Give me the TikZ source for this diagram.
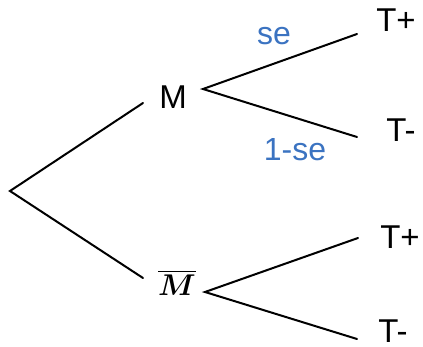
\RequirePackage{fix-cm}
\documentclass[tikz,border=0pt]{standalone}
\usepackage{amsmath}
\usepackage{fontspec}
\setmainfont{Liberation Sans}
\usepackage{tikz}
\usetikzlibrary{positioning}
\definecolor{problabel}{HTML}{3B73C1}
\tikzset{
  branch/.style={line width=2pt,line cap=round},
  outcome/.style={font=\fontsize{33}{36}\selectfont,inner sep=0pt},
  prob/.style={font=\fontsize{32}{36}\selectfont,text=problabel,inner sep=0pt}
}

\begin{document}
\begin{tikzpicture}[x=1pt,y=-1pt]
  \useasboundingbox (0,0) rectangle (423,347);
  % first stage
  \coordinate (root) at (10,191);
  \coordinate (m-in) at (143,103);
  \coordinate (mb-in) at (143,278);
  \node[outcome] (m) at (173,97) {M};
  \node[outcome,font=\fontsize{30}{34}\selectfont] (mbar) at (177,283) {$\boldsymbol{\overline{M}}$};
  \draw[branch] (m-in)--(root)--(mb-in);
  % second stage, diseased
  \coordinate (m-out) at (203,89);
  \coordinate (tp1) at (357,34); \coordinate (tn1) at (357,137);
  \node[outcome] (tp1-lab) at (396,20) {T+};
  \node[outcome] (tn1-lab) at (401,130) {T-};
  \draw[branch] (tp1)--(m-out)--(tn1);
  \node[prob] (se) at (274,36) {se};
  \node[prob] (fn) at (295,150) {1-se};
  % second stage, not diseased
  \coordinate (mb-out) at (205,292);
  \coordinate (tp2) at (358,238); \coordinate (tn2) at (357,339);
  \node[outcome] (tp2-lab) at (400,237) {T+};
  \node[outcome] (tn2-lab) at (393,331) {T-};
  \draw[branch] (tp2)--(mb-out)--(tn2);
\end{tikzpicture}
\end{document}
